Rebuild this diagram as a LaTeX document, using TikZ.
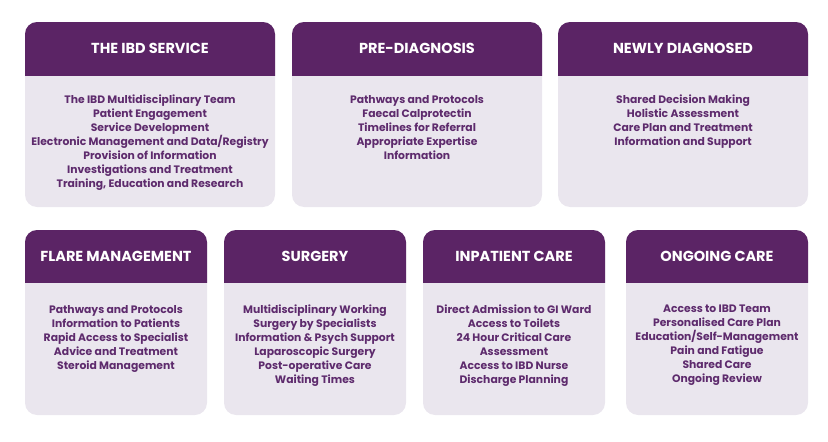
\documentclass[tikz,border=0pt]{standalone}
\usepackage{fontspec}
\setmainfont{Poppins}
\definecolor{ibdpurple}{HTML}{5B2465}
\definecolor{ibdtext}{HTML}{5E2B6D}
\definecolor{ibdpale}{HTML}{EAE6EE}
\tikzset{
  cardbody/.style={fill=ibdpale, rounded corners=12pt},
  cardhead/.style={fill=ibdpurple, rounded corners=12pt},
  headtext/.style={text=white, font=\bfseries\fontsize{14.5}{16}\selectfont, inner sep=0pt},
  bodytext/.style={text=ibdtext, font=\bfseries\fontsize{10.8}{14}\selectfont, align=center,
    anchor=north, inner sep=0pt}
}
\begin{document}
\begin{tikzpicture}[x=1pt, y=-1pt]
  \useasboundingbox (0,0) rectangle (828,442);
  % cards: left, right, top, bottom, header bottom (px from top left)
  \foreach \xa/\xb/\ya/\yb/\yh in {25/275/22/207/75, 292/542/22/207/75, 558/808/22/207/75,
      25/207/230/415/282, 224/406/230/415/282, 423/605/230/415/282, 626/808/230/415/282} {
    \fill[cardbody] (\xa,\ya) rectangle (\xb,\yb);
    \begin{scope}
      \clip (\xa,\ya) rectangle (\xb,\yh);
      \fill[cardhead] (\xa,\ya) rectangle (\xb,\yb);
    \end{scope}
  }
  % top row
  \node[headtext] (service-head) at (150,48) {THE IBD SERVICE};
  \node[bodytext] (service-body) at (150,95) {The IBD Multidisciplinary Team\\
    Patient Engagement\\ Service Development\\
    Electronic Management and Data/Registry\\ Provision of Information\\
    Investigations and Treatment\\ Training, Education and Research};
  \node[headtext] (prediag-head) at (417,48) {PRE-DIAGNOSIS};
  \node[bodytext] (prediag-body) at (417,95) {Pathways and Protocols\\
    Faecal Calprotectin\\ Timelines for Referral\\ Appropriate Expertise\\ Information};
  \node[headtext] (newly-head) at (683,48) {NEWLY DIAGNOSED};
  \node[bodytext] (newly-body) at (683,95) {Shared Decision Making\\
    Holistic Assessment\\ Care Plan and Treatment\\ Information and Support};
  % bottom row
  \node[headtext] (flare-head) at (116,256) {FLARE MANAGEMENT};
  \node[bodytext] (flare-body) at (116,305) {Pathways and Protocols\\
    Information to Patients\\ Rapid Access to Specialist\\ Advice and Treatment\\
    Steroid Management};
  \node[headtext] (surgery-head) at (315,256) {SURGERY};
  \node[bodytext] (surgery-body) at (315,305) {Multidisciplinary Working\\
    Surgery by Specialists\\ Information \& Psych Support\\ Laparoscopic Surgery\\
    Post-operative Care\\ Waiting Times};
  \node[headtext] (inpatient-head) at (514,256) {INPATIENT CARE};
  \node[bodytext] (inpatient-body) at (514,305) {Direct Admission to GI Ward\\
    Access to Toilets\\ 24 Hour Critical Care\\ Assessment\\ Access to IBD Nurse\\
    Discharge Planning};
  \node[headtext] (ongoing-head) at (717,256) {ONGOING CARE};
  \node[bodytext] (ongoing-body) at (717,305) {Access to IBD Team\\
    Personalised Care Plan\\ Education/Self-Management\\ Pain and Fatigue\\
    Shared Care\\ Ongoing Review};
\end{tikzpicture}
\end{document}
